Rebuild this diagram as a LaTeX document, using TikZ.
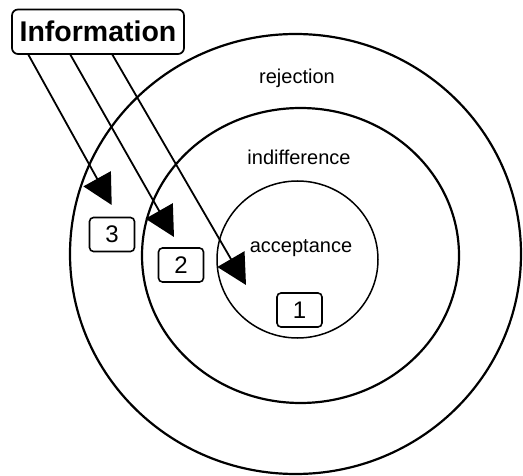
\documentclass[tikz,border=0pt]{standalone}
\usepackage{fontspec}
\setmainfont{Liberation Sans}
\usetikzlibrary{arrows.meta}
\tikzset{
  ring/.style={line width=2.2pt},
  thinring/.style={line width=1.5pt},
  infobox/.style={draw, line width=1.7pt, rounded corners=6pt, minimum width=172pt, minimum height=44.5pt, inner sep=0pt, font=\fontsize{28.5}{32}\selectfont\bfseries},
  numbox/.style={draw, line width=1.6pt, rounded corners=4pt, minimum width=45pt, minimum height=34pt, inner sep=0pt, font=\fontsize{24}{28}\selectfont},
  lbl/.style={anchor=base, inner sep=0pt, font=\fontsize{20}{24}\selectfont},
  infoarrow/.style={line width=1.8pt, -{Triangle[length=30pt,width=31pt]}}
}
\begin{document}
\begin{tikzpicture}[x=1pt,y=-1pt]
\useasboundingbox (0,0) rectangle (523,476);
% circles
\draw[ring] (295.5,254) ellipse [x radius=225.5, y radius=220];
\draw[ring] (300.5,255.5) ellipse [x radius=158.5, y radius=147.5];
\draw[thinring] (297.5,259.5) ellipse [x radius=80.5, y radius=78.5];
% labels
\node[lbl] (rej) at (297,84) {rejection};
\node[lbl] (ind) at (299,165) {indifference};
\node[lbl] (acc) at (301,253) {acceptance};
% info box
\node[infobox] (info) at (98,31.75) {Information};
% number boxes
\node[numbox] (n3) at (112,234.5) {3};
\node[numbox] (n2) at (181,265) {2};
\node[numbox] (n1) at (299.5,310) {1};
% connector ends
\coordinate (s1) at (28,54);
\coordinate (s2) at (70,54);
\coordinate (s3) at (112,54);
\coordinate (t1) at (111.7,205);
\coordinate (t2) at (174,237);
\coordinate (t3) at (246,285);
\draw[infoarrow] (s1) -- (t1);
\draw[infoarrow] (s2) -- (t2);
\draw[infoarrow] (s3) -- (t3);
\end{tikzpicture}
\end{document}
